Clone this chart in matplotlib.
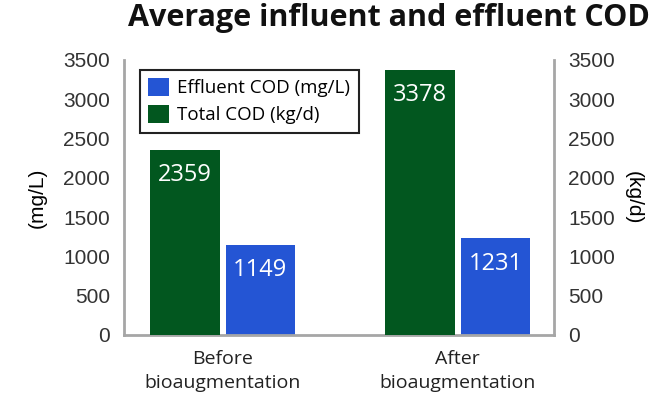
import matplotlib
matplotlib.use("Agg")
import matplotlib.pyplot as plt
import numpy as np

plt.rcParams["font.family"] = ["Liberation Sans", "DejaVu Sans"]

categories = ["Before\nbioaugmentation", "After\nbioaugmentation"]
total_cod = [2359, 3378]      # kg/d
effluent_cod = [1149, 1231]   # mg/L
y_ticks = [0, 500, 1000, 1500, 2000, 2500, 3000, 3500]

green = "#02571F"
blue = "#2455D4"
grey = "#A6A6A6"

fig = plt.figure(figsize=(6.59, 4.0), dpi=100)
ax = fig.add_axes([0.188, 0.1625, 0.653, 0.6875])
ax2 = ax.twinx()

x = np.arange(len(categories))
w = 0.295
b_green = ax2.bar(x - 0.16, total_cod, w, color=green, label="Total COD (kg/d)", zorder=2)
b_blue = ax.bar(x + 0.16, effluent_cod, w, color=blue, label="Effluent COD (mg/L)", zorder=2)

for a in (ax, ax2):
    a.set_ylim(0, 3500)
    a.set_yticks(y_ticks)
    a.set_xlim(-0.42, 1.41)
    for s in a.spines.values():
        s.set_visible(False)
    a.tick_params(length=0, labelsize=15, labelcolor="#333333", pad=10)

ax.spines["left"].set_visible(True)
ax.spines["bottom"].set_visible(True)
ax2.spines["right"].set_visible(True)
for s in (ax.spines["left"], ax.spines["bottom"], ax2.spines["right"]):
    s.set_color(grey)
    s.set_linewidth(2)

ax.set_xticks(x)
ax.set_xticklabels(categories, fontsize=14, family="Open Sans", color="#222222",
                   linespacing=1.42)
ax.tick_params(axis="x", pad=11)

ax.set_ylabel("(mg/L)", fontsize=15, labelpad=12)
ax2.set_ylabel("(kg/d)", fontsize=15, rotation=-90, labelpad=20)

for rect, v in zip(b_green, total_cod):
    ax2.text(rect.get_x() + rect.get_width() / 2, v - 170, str(v), ha="center", va="top",
             color="white", fontsize=17, family="Open Sans")
for rect, v in zip(b_blue, effluent_cod):
    ax.text(rect.get_x() + rect.get_width() / 2, v - 170, str(v), ha="center", va="top",
            color="white", fontsize=17, family="Open Sans")

leg = ax2.legend([b_blue, b_green], ["Effluent COD (mg/L)", "Total COD (kg/d)"],
                 loc="upper left", bbox_to_anchor=(0.037, 0.965), fancybox=False,
                 edgecolor="#222222", framealpha=1, handlelength=1.1, handleheight=1.1,
                 prop={"family": "Open Sans", "size": 13.5}, borderpad=0.45,
                 labelspacing=0.4, handletextpad=0.45, borderaxespad=0)
leg.get_frame().set_linewidth(1.5)

fig.text(0.59, 0.955, "Average influent and effluent COD", ha="center", va="center",
         fontsize=22, fontweight="bold", family="Open Sans", color="#111111")

fig.savefig("out.png", dpi=100)
